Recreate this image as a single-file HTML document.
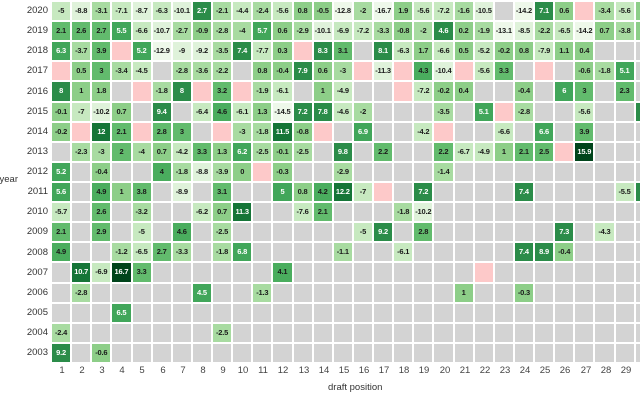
<!DOCTYPE html>
<html><head><meta charset="utf-8"><style>
body{margin:0;width:640px;height:400px;overflow:hidden;background:#fff;font-family:"Liberation Sans",sans-serif;position:relative}
.g{position:absolute;left:52px;top:2px;width:700px}
.r{display:flex;height:18.12px;margin-bottom:2px}
.r b{flex:none;width:18.14px;margin-right:2px;height:18.12px;background:#d3d3d3;font-size:7.5px;line-height:18px;text-align:center;color:#1a1a1a;font-weight:bold;letter-spacing:-0.2px;white-space:nowrap;overflow:visible}
.r b.p{background:#fdc9c9}
.r b.a{background:#eef8ea}.r b.b{background:#dff2da}.r b.c{background:#c7e9c0}.r b.d{background:#a8dba1}
.r b.e{background:#8dce88}.r b.f{background:#62bb6d}.r b.h{background:#4aad5e}
.r b.j{background:#41a65a;color:#fff}.r b.k{background:#2b8c49;color:#fff}.r b.m{background:#157537;color:#fff}.r b.n{background:#00441b;color:#fff}
.y{position:absolute;left:0;width:48px;text-align:right;font-size:9.5px;color:#333;height:18px;line-height:18px}
.t{position:absolute;top:365px;width:20px;text-align:center;font-size:9.5px;color:#444}
</style></head><body>
<div class="y" style="top:2px">2020</div><div class="y" style="top:22px">2019</div><div class="y" style="top:42px">2018</div><div class="y" style="top:62px">2017</div><div class="y" style="top:83px">2016</div><div class="y" style="top:103px">2015</div><div class="y" style="top:123px">2014</div><div class="y" style="top:143px">2013</div><div class="y" style="top:163px">2012</div><div class="y" style="top:183px">2011</div><div class="y" style="top:203px">2010</div><div class="y" style="top:223px">2009</div><div class="y" style="top:244px">2008</div><div class="y" style="top:264px">2007</div><div class="y" style="top:284px">2006</div><div class="y" style="top:304px">2005</div><div class="y" style="top:324px">2004</div><div class="y" style="top:344px">2003</div>
<div style="position:absolute;right:622px;top:174px;font-size:9.5px;color:#333;white-space:nowrap">draft year</div>
<div class="g">
<div class="r"><b class="c">-5</b><b class="b">-8.8</b><b class="d">-3.1</b><b class="c">-7.1</b><b class="b">-8.7</b><b class="c">-6.3</b><b class="b">-10.1</b><b class="k">2.7</b><b class="d">-2.1</b><b class="c">-4.4</b><b class="d">-2.4</b><b class="c">-5.6</b><b class="e">0.8</b><b class="e">-0.5</b><b class="a">-12.8</b><b class="d">-2</b><b class="a">-16.7</b><b class="e">1.9</b><b class="c">-5.6</b><b class="c">-7.2</b><b class="d">-1.6</b><b class="b">-10.5</b><b></b><b class="a">-14.2</b><b class="k">7.1</b><b class="e">0.6</b><b class="p"></b><b class="d">-3.4</b><b class="c">-5.6</b><b class="e"></b></div>
<div class="r"><b class="f">2.1</b><b class="f">2.6</b><b class="f">2.7</b><b class="j">5.5</b><b class="c">-6.6</b><b class="b">-10.7</b><b class="d">-2.7</b><b class="e">-0.9</b><b class="d">-2.8</b><b class="d">-4</b><b class="j">5.7</b><b class="e">0.6</b><b class="d">-2.9</b><b class="b">-10.1</b><b class="c">-6.9</b><b class="c">-7.2</b><b class="d">-3.3</b><b class="e">-0.8</b><b class="d">-2</b><b class="k">4.6</b><b class="e">0.2</b><b class="d">-1.9</b><b class="a">-13.1</b><b class="b">-8.5</b><b class="d">-2.2</b><b class="c">-6.5</b><b class="a">-14.2</b><b class="e">0.7</b><b class="d">-3.8</b><b class="e"></b></div>
<div class="r"><b class="j">6.3</b><b class="d">-3.7</b><b class="f">3.9</b><b class="p"></b><b class="j">5.2</b><b class="a">-12.9</b><b class="b">-9</b><b class="b">-9.2</b><b class="d">-3.5</b><b class="k">7.4</b><b class="c">-7.7</b><b class="e">0.3</b><b class="p"></b><b class="k">8.3</b><b class="f">3.1</b><b></b><b class="k">8.1</b><b class="c">-6.3</b><b class="e">1.7</b><b class="c">-6.6</b><b class="e">0.5</b><b class="c">-5.2</b><b class="e">-0.2</b><b class="e">0.8</b><b class="c">-7.9</b><b class="e">1.1</b><b class="e">0.4</b><b></b><b></b><b></b></div>
<div class="r"><b class="p"></b><b class="e">0.5</b><b class="f">3</b><b class="d">-3.4</b><b class="c">-4.5</b><b></b><b class="d">-2.8</b><b class="d">-3.6</b><b class="d">-2.2</b><b></b><b class="e">0.8</b><b class="e">-0.4</b><b class="k">7.9</b><b class="e">0.6</b><b class="d">-3</b><b class="p"></b><b class="b">-11.3</b><b class="p"></b><b class="h">4.3</b><b class="b">-10.4</b><b class="p"></b><b class="c">-5.6</b><b class="f">3.3</b><b></b><b class="p"></b><b></b><b class="e">-0.6</b><b class="d">-1.8</b><b class="j">5.1</b><b></b></div>
<div class="r"><b class="k">8</b><b class="e">1</b><b class="e">1.8</b><b></b><b class="p"></b><b class="d">-1.8</b><b class="k">8</b><b class="p"></b><b class="f">3.2</b><b class="p"></b><b class="d">-1.9</b><b class="c">-6.1</b><b></b><b class="e">1</b><b class="c">-4.9</b><b></b><b></b><b class="p"></b><b class="c">-7.2</b><b class="e">-0.2</b><b class="e">0.4</b><b></b><b></b><b class="e">-0.4</b><b></b><b class="j">6</b><b class="f">3</b><b></b><b class="f">2.3</b><b></b></div>
<div class="r"><b class="e">-0.1</b><b class="c">-7</b><b class="b">-10.2</b><b class="e">0.7</b><b></b><b class="k">9.4</b><b></b><b class="c">-6.4</b><b class="h">4.6</b><b class="c">-6.1</b><b class="e">1.3</b><b class="a">-14.5</b><b class="k">7.2</b><b class="k">7.8</b><b class="c">-4.6</b><b class="d">-2</b><b></b><b></b><b></b><b class="d">-3.5</b><b></b><b class="j">5.1</b><b class="p"></b><b class="d">-2.8</b><b></b><b></b><b class="c">-5.6</b><b></b><b></b><b class="k"></b></div>
<div class="r"><b class="e">-0.2</b><b class="p"></b><b class="m">12</b><b class="f">2.1</b><b class="p"></b><b class="f">2.8</b><b class="f">3</b><b></b><b class="p"></b><b class="d">-3</b><b class="d">-1.8</b><b class="m">11.5</b><b class="e">-0.8</b><b class="p"></b><b></b><b class="j">6.9</b><b></b><b></b><b class="c">-4.2</b><b class="p"></b><b></b><b></b><b class="c">-6.6</b><b></b><b class="j">6.6</b><b></b><b class="f">3.9</b><b></b><b></b><b></b></div>
<div class="r"><b></b><b class="d">-2.3</b><b class="d">-3</b><b class="f">2</b><b class="d">-4</b><b class="e">0.7</b><b class="c">-4.2</b><b class="f">3.3</b><b class="e">1.3</b><b class="j">6.2</b><b class="d">-2.5</b><b class="e">-0.1</b><b class="d">-2.5</b><b></b><b class="k">9.8</b><b></b><b class="f">2.2</b><b></b><b></b><b class="f">2.2</b><b class="c">-6.7</b><b class="c">-4.9</b><b class="e">1</b><b class="f">2.1</b><b class="f">2.5</b><b class="p"></b><b class="n">15.9</b><b></b><b></b><b></b></div>
<div class="r"><b class="j">5.2</b><b></b><b class="e">-0.4</b><b></b><b></b><b class="h">4</b><b class="d">-1.8</b><b class="b">-8.8</b><b class="d">-3.9</b><b class="e">0</b><b class="p"></b><b class="e">-0.3</b><b></b><b></b><b class="d">-2.9</b><b></b><b></b><b></b><b></b><b class="d">-1.4</b><b></b><b></b><b></b><b></b><b></b><b></b><b></b><b></b><b></b><b></b></div>
<div class="r"><b class="j">5.6</b><b></b><b class="h">4.9</b><b class="e">1</b><b class="f">3.8</b><b></b><b class="b">-8.9</b><b></b><b class="f">3.1</b><b></b><b></b><b class="j">5</b><b class="e">0.8</b><b class="h">4.2</b><b class="m">12.2</b><b class="c">-7</b><b class="p"></b><b></b><b class="k">7.2</b><b></b><b></b><b></b><b></b><b class="k">7.4</b><b></b><b></b><b></b><b></b><b class="c">-5.5</b><b class="k"></b></div>
<div class="r"><b class="c">-5.7</b><b></b><b class="f">2.6</b><b></b><b class="d">-3.2</b><b></b><b></b><b class="c">-6.2</b><b class="e">0.7</b><b class="m">11.3</b><b></b><b></b><b class="c">-7.6</b><b class="f">2.1</b><b></b><b></b><b></b><b class="d">-1.8</b><b class="b">-10.2</b><b></b><b></b><b></b><b></b><b></b><b></b><b></b><b></b><b></b><b></b><b></b></div>
<div class="r"><b class="f">2.1</b><b></b><b class="f">2.9</b><b></b><b class="c">-5</b><b></b><b class="h">4.6</b><b></b><b class="d">-2.5</b><b></b><b></b><b></b><b></b><b></b><b></b><b class="c">-5</b><b class="k">9.2</b><b></b><b class="f">2.8</b><b></b><b></b><b></b><b></b><b></b><b></b><b class="k">7.3</b><b></b><b class="c">-4.3</b><b></b><b></b></div>
<div class="r"><b class="h">4.9</b><b></b><b></b><b class="d">-1.2</b><b class="c">-6.5</b><b class="f">2.7</b><b class="d">-3.3</b><b></b><b class="d">-1.8</b><b class="j">6.8</b><b></b><b></b><b></b><b></b><b class="d">-1.1</b><b></b><b></b><b class="c">-6.1</b><b></b><b></b><b></b><b></b><b></b><b class="k">7.4</b><b class="k">8.9</b><b class="e">-0.4</b><b></b><b></b><b></b><b></b></div>
<div class="r"><b></b><b class="m">10.7</b><b class="c">-6.9</b><b class="n">16.7</b><b class="f">3.3</b><b></b><b></b><b></b><b></b><b></b><b></b><b class="h">4.1</b><b></b><b></b><b></b><b></b><b></b><b></b><b></b><b></b><b></b><b class="p"></b><b></b><b></b><b></b><b></b><b></b><b></b><b></b><b></b></div>
<div class="r"><b></b><b class="d">-2.8</b><b></b><b></b><b></b><b></b><b></b><b class="j">4.5</b><b></b><b></b><b class="d">-1.3</b><b></b><b></b><b></b><b></b><b></b><b></b><b></b><b></b><b></b><b class="e">1</b><b></b><b></b><b class="e">-0.3</b><b></b><b></b><b></b><b></b><b></b><b></b></div>
<div class="r"><b></b><b></b><b></b><b class="j">6.5</b><b></b><b></b><b></b><b></b><b></b><b></b><b></b><b></b><b></b><b></b><b></b><b></b><b></b><b></b><b></b><b></b><b></b><b></b><b></b><b></b><b></b><b></b><b></b><b></b><b></b><b></b></div>
<div class="r"><b class="d">-2.4</b><b></b><b></b><b></b><b></b><b></b><b></b><b></b><b class="d">-2.5</b><b></b><b></b><b></b><b></b><b></b><b></b><b></b><b></b><b></b><b></b><b></b><b></b><b></b><b></b><b></b><b></b><b></b><b></b><b></b><b></b><b></b></div>
<div class="r"><b class="k">9.2</b><b></b><b class="e">-0.6</b><b></b><b></b><b></b><b></b><b></b><b></b><b></b><b></b><b></b><b></b><b></b><b></b><b></b><b></b><b></b><b></b><b></b><b></b><b></b><b></b><b></b><b></b><b></b><b></b><b></b><b></b><b></b></div>
</div>
<div class="t" style="left:52px">1</div><div class="t" style="left:72px">2</div><div class="t" style="left:92px">3</div><div class="t" style="left:112px">4</div><div class="t" style="left:132px">5</div><div class="t" style="left:153px">6</div><div class="t" style="left:173px">7</div><div class="t" style="left:193px">8</div><div class="t" style="left:213px">9</div><div class="t" style="left:233px">10</div><div class="t" style="left:253px">11</div><div class="t" style="left:273px">12</div><div class="t" style="left:294px">13</div><div class="t" style="left:314px">14</div><div class="t" style="left:334px">15</div><div class="t" style="left:354px">16</div><div class="t" style="left:374px">17</div><div class="t" style="left:394px">18</div><div class="t" style="left:414px">19</div><div class="t" style="left:435px">20</div><div class="t" style="left:455px">21</div><div class="t" style="left:475px">22</div><div class="t" style="left:495px">23</div><div class="t" style="left:515px">24</div><div class="t" style="left:535px">25</div><div class="t" style="left:555px">26</div><div class="t" style="left:576px">27</div><div class="t" style="left:596px">28</div><div class="t" style="left:616px">29</div>
<div style="position:absolute;left:328px;top:382px;font-size:9.5px;color:#333">draft position</div>
</body></html>
